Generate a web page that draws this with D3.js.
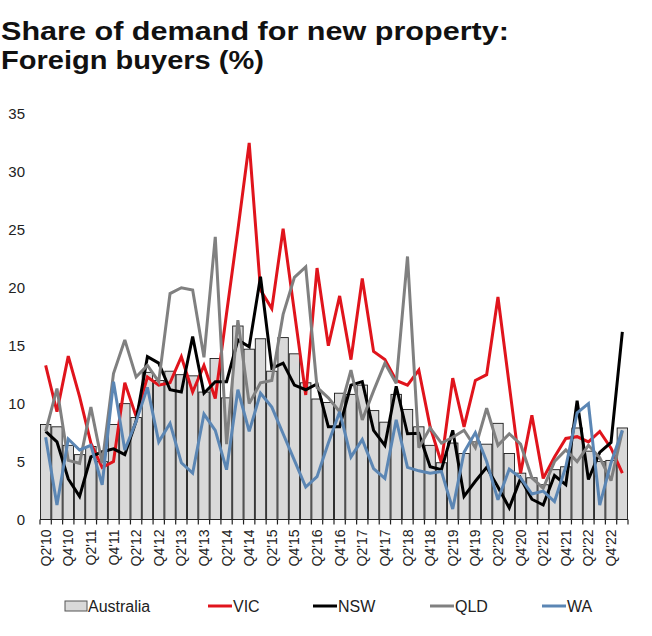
<!DOCTYPE html>
<html>
<head>
<meta charset="utf-8">
<script src="https://cdn.jsdelivr.net/npm/d3@7"></script>
<style>
  html, body { margin: 0; padding: 0; background: #fff; }
  svg { display: block; }
</style>
</head>
<body>
<svg id="chart" width="652" height="636"></svg>
<script>
// ---- data ----
const quarters = ["Q2'10","Q3'10","Q4'10","Q1'11","Q2'11","Q3'11","Q4'11","Q1'12","Q2'12","Q3'12","Q4'12","Q1'13",
  "Q2'13","Q3'13","Q4'13","Q1'14","Q2'14","Q3'14","Q4'14","Q1'15","Q2'15","Q3'15","Q4'15","Q1'16",
  "Q2'16","Q3'16","Q4'16","Q1'17","Q2'17","Q3'17","Q4'17","Q1'18","Q2'18","Q3'18","Q4'18","Q1'19",
  "Q2'19","Q3'19","Q4'19","Q1'20","Q2'20","Q3'20","Q4'20","Q1'21","Q2'21","Q3'21","Q4'21","Q1'22",
  "Q2'22","Q3'22","Q4'22","Q1'23"];
const tickLabels = ["Q2'10","Q4'10","Q2'11","Q4'11","Q2'12","Q4'12","Q2'13","Q4'13","Q2'14","Q4'14","Q2'15","Q4'15","Q2'16",
  "Q4'16","Q2'17","Q4'17","Q2'18","Q4'18","Q2'19","Q4'19","Q2'20","Q4'20","Q2'21","Q4'21","Q2'22","Q4'22"];
const yTicks = [0,5,10,15,20,25,30,35];

const australia = [8.2,8.0,6.4,5.6,6.3,5.0,8.2,10.0,8.8,12.7,12.0,12.8,
  12.5,12.4,11.0,13.9,10.5,16.7,14.7,15.6,12.8,15.7,14.3,11.8,
  10.4,10.1,10.9,10.8,11.6,9.4,8.4,10.8,9.5,8.0,6.4,4.9,
  6.6,5.7,6.7,6.5,8.3,5.7,4.0,3.6,3.0,4.3,4.55,7.9,
  5.9,5.0,5.1,7.9];
const vic = [13.3,9.3,14.1,10.6,6.6,4.5,5.0,11.8,8.9,12.3,11.6,11.8,
  14.05,11.0,13.3,10.45,17.8,25.0,32.5,19.8,18.2,25.1,17.9,10.75,
  21.7,15.0,19.3,13.8,20.8,14.5,13.8,12.0,11.6,12.9,8.0,4.9,
  12.2,8.0,12.0,12.5,19.2,11.6,4.0,9.0,3.55,5.4,7.0,7.15,
  6.7,7.6,6.15,4.0];
const nsw = [7.6,6.7,3.5,2.0,5.4,5.85,6.1,5.6,8.5,14.05,13.5,11.2,
  11.0,15.8,10.9,11.9,11.9,15.5,14.9,20.95,13.05,13.5,11.6,11.2,
  11.7,8.0,8.0,11.6,11.9,7.7,6.4,11.5,7.4,7.45,4.55,4.3,
  7.7,2.0,3.3,4.5,2.8,1.0,3.55,1.75,1.25,3.8,3.0,10.25,
  3.45,5.8,6.65,16.2];
const qld = [7.6,11.3,5.1,4.85,9.7,4.85,12.6,15.5,12.3,13.3,11.9,19.5,
  20.0,19.8,14.0,24.4,6.5,17.2,10.0,11.8,12.0,17.7,20.9,21.8,
  11.4,10.5,9.3,12.9,8.6,11.1,13.5,11.75,22.7,6.2,7.9,6.6,
  7.1,7.7,6.2,9.6,6.4,7.4,6.5,3.6,2.7,5.0,6.0,5.0,
  6.4,5.35,3.35,7.65];
const wa = [7.1,1.25,6.95,6.0,6.4,3.0,11.9,6.0,8.45,11.4,6.7,8.3,
  4.9,4.0,9.1,7.7,4.3,11.2,7.6,10.9,9.7,7.4,5.1,2.8,
  3.7,6.6,9.3,5.4,6.9,4.4,3.55,8.6,4.5,4.2,4.0,4.15,
  0.9,5.8,7.5,5.0,1.7,4.35,3.6,2.2,2.45,1.55,4.55,9.2,
  10.0,1.25,4.9,7.7];

const seriesNames = ["VIC","NSW","QLD","WA"];
const seriesValues = [vic, nsw, qld, wa];
const seriesColors = ["#e0141c","#000000","#808080","#5b86b4"];

// ---- layout ----
const svg = d3.select("#chart");
const x = d3.scaleBand().domain(quarters).range([40, 628]).paddingInner(0.08).paddingOuter(0.04);
const y = d3.scaleLinear().domain([0, 35]).range([519.5, 114]);

// title
const title = svg.append("g").attr("font-family", "'Liberation Sans', Arial, sans-serif")
  .attr("font-weight", 700).attr("fill", "#111");
title.append("text").attr("x", 1).attr("y", 40).attr("font-size", 25)
  .attr("textLength", 508).attr("lengthAdjust", "spacingAndGlyphs")
  .text("Share of demand for new property:");
title.append("text").attr("x", 1).attr("y", 69).attr("font-size", 25)
  .attr("textLength", 263).attr("lengthAdjust", "spacingAndGlyphs")
  .text("Foreign buyers (%)");

// y tick labels
svg.append("g").selectAll("text").data(yTicks).join("text")
  .attr("x", 25).attr("y", d => y(d)).attr("dy", "0.35em")
  .attr("text-anchor", "end")
  .attr("font-family", "'Liberation Sans', Arial, sans-serif")
  .attr("font-size", 15).attr("fill", "#222")
  .text(d => d);

// bars
svg.append("g").selectAll("rect").data(australia).join("rect")
  .attr("x", (d, i) => x(quarters[i]))
  .attr("width", x.bandwidth())
  .attr("y", d => y(d))
  .attr("height", d => y(0) - y(d))
  .attr("fill", "#d9d9d9")
  .attr("stroke", "#1a1a1a")
  .attr("stroke-width", 0.9);

// lines
const line = d3.line()
  .x((d, i) => x(quarters[i]) + x.bandwidth() / 2)
  .y(d => y(d));
seriesValues.forEach((vals, k) => {
  svg.append("path").datum(vals)
    .attr("d", line)
    .attr("fill", "none")
    .attr("stroke", seriesColors[k])
    .attr("stroke-width", 3)
    .attr("stroke-linejoin", "miter")
    .attr("stroke-miterlimit", 3);
});

// x axis
const xAxis = svg.append("g");
xAxis.append("line").attr("x1", 40).attr("x2", 628).attr("y1", y(0)).attr("y2", y(0))
  .attr("stroke", "#222").attr("stroke-width", 1.2);
const edges = quarters.map(q => x(q) - x.step() * x.paddingInner() / 2).concat([628]);
edges[0] = 40;
xAxis.selectAll("line.tick").data(edges).join("line").attr("class", "tick")
  .attr("x1", d => d).attr("x2", d => d)
  .attr("y1", y(0)).attr("y2", y(0) + 5)
  .attr("stroke", "#222").attr("stroke-width", 1.2);
xAxis.selectAll("text").data(tickLabels).join("text")
  .attr("transform", d => `translate(${x(d) + x.bandwidth() / 2 + 5},${y(0) + 10}) rotate(-90)`)
  .attr("text-anchor", "end")
  .attr("font-family", "'Liberation Sans', Arial, sans-serif")
  .attr("font-size", 14).attr("fill", "#222")
  .text(d => d);

// legend
const lg = svg.append("g").attr("font-family", "'Liberation Sans', Arial, sans-serif")
  .attr("font-size", 16).attr("fill", "#222");
lg.append("rect").attr("x", 65).attr("y", 601).attr("width", 22).attr("height", 10)
  .attr("fill", "#d9d9d9").attr("stroke", "#555").attr("stroke-width", 1);
lg.append("text").attr("x", 88).attr("y", 612).text("Australia");
const legendX = [208, 313, 430, 542];
seriesNames.forEach((n, k) => {
  lg.append("line").attr("x1", legendX[k]).attr("x2", legendX[k] + 24)
    .attr("y1", 606).attr("y2", 606)
    .attr("stroke", seriesColors[k]).attr("stroke-width", 3);
  lg.append("text").attr("x", legendX[k] + 25).attr("y", 612).text(n);
});
</script>
</body>
</html>
